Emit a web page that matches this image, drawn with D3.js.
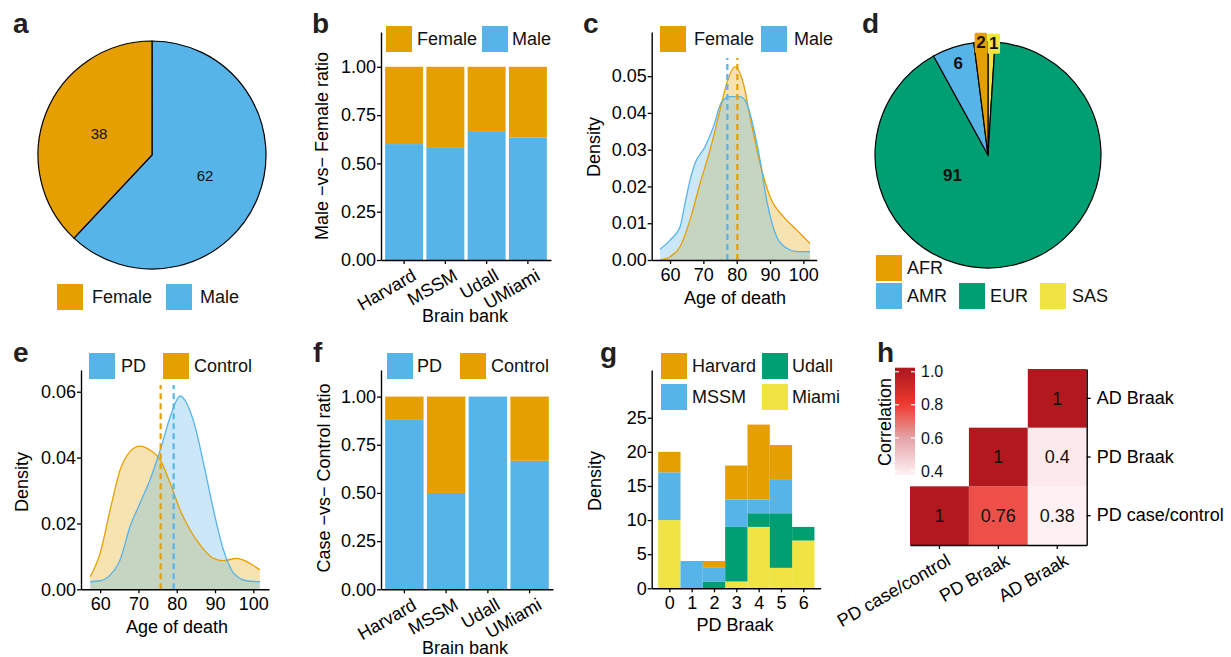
<!DOCTYPE html>
<html><head><meta charset="utf-8">
<script src="https://cdn.jsdelivr.net/npm/d3@7"></script>
<style>body{margin:0;background:#fff}svg{font-family:"Liberation Sans",Arial,sans-serif}</style>
</head><body>
<svg id="fig" width="1231" height="657"></svg>
<script>
// ---------------- DATA ----------------
const sexLabels = ["Female", "Male"];
const sexPercent = [38, 62];

const bankNames = ["Harvard", "MSSM", "Udall", "UMiami"];
const maleRatio = [0.60, 0.58, 0.667, 0.633];
const femaleRatio = [0.40, 0.42, 0.333, 0.367];

const femaleAge = [57, 60, 63, 66, 69, 72, 75, 77, 79.5, 82, 84, 87, 90, 94, 98, 102];
const femaleDensity = [0.000, 0.0009, 0.0036, 0.0109, 0.0208, 0.0299, 0.0408, 0.048, 0.0525, 0.048, 0.0389, 0.0263, 0.0172, 0.0118, 0.0082, 0.0045];
const maleAge = [57, 60, 63, 64.5, 66, 67.5, 70.5, 73, 75.5, 78, 81, 83, 85, 87, 89, 92, 95, 98, 102];
const maleDensity = [0.0029, 0.0054, 0.009, 0.0154, 0.0217, 0.0263, 0.0308, 0.0362, 0.043, 0.0444, 0.0444, 0.0426, 0.0362, 0.0272, 0.0163, 0.0063, 0.0032, 0.0023, 0.0023];
const meanAgeFemale = 80.2, meanAgeMale = 77.2;

const ancestryLabels = ["AFR", "AMR", "EUR", "SAS"];
const ancestryPercent = [2, 6, 91, 1];

const controlAge = [57.4, 60, 62.6, 65.2, 67.8, 70.4, 73, 75.7, 78.3, 80.9, 83.5, 86.1, 89.6, 92.2, 95.7, 98.3, 101.7];
const controlDensity = [0.0038, 0.0110, 0.0241, 0.0362, 0.0418, 0.0435, 0.0423, 0.0393, 0.0322, 0.0241, 0.0180, 0.0135, 0.0094, 0.0087, 0.0094, 0.0084, 0.0059];
const pdAge = [57.4, 60, 62.6, 65.2, 67.8, 70.4, 73, 75.7, 78.3, 80, 80.9, 82.6, 84.8, 87, 89.6, 92.2, 94.8, 98.3, 101.7];
const pdDensity = [0.0023, 0.0026, 0.0043, 0.0089, 0.019, 0.0261, 0.0332, 0.0423, 0.0524, 0.0575, 0.0587, 0.0565, 0.0494, 0.0383, 0.0241, 0.012, 0.005, 0.0026, 0.0023];
const meanAgeControl = 75.8, meanAgePD = 79.2;

const pdRatio = [0.879, 0.50, 1.00, 0.667];
const controlRatio = [0.121, 0.50, 0.00, 0.333];

const braakStages = [0, 1, 2, 3, 4, 5, 6];
const countMiami   = [10, 0, 0, 1, 9, 3, 7];
const countUdall   = [0, 0, 1, 8, 2, 8, 2];
const countMSSM    = [7, 4, 2, 4, 2, 5, 0];
const countHarvard = [3, 0, 1, 5, 11, 5, 0];

const corrVars = ["PD case/control", "PD Braak", "AD Braak"];
const corrRows = ["PD case/control", "PD case/control", "PD case/control", "PD Braak", "PD Braak", "AD Braak"];
const corrCols = ["PD case/control", "PD Braak", "AD Braak", "PD Braak", "AD Braak", "AD Braak"];
const corrValues = [1, 0.76, 0.38, 1, 0.4, 1];

// ---------------- STYLE ----------------
const FONT = '"Liberation Sans", Arial, sans-serif';
const COL = {orange: "#E69F00", blue: "#56B4E9", green: "#009E73", yellow: "#F0E442"};
const svg = d3.select("#fig");

function panelLabel(t, x, y) {
  svg.append("text").attr("x", x).attr("y", y).attr("font-size", 28)
    .attr("font-weight", "bold").attr("fill", "#231f20").text(t);
}
function key(x, y, color, label, tx) {
  svg.append("rect").attr("x", x).attr("y", y).attr("width", 26).attr("height", 26).attr("fill", color);
  svg.append("text").attr("x", tx).attr("y", y + 13).attr("dy", "0.35em").attr("font-size", 18).attr("fill", "#111").text(label);
}
function styleAxis(g) {
  g.attr("font-family", FONT).attr("font-size", 18);
  g.select(".domain").attr("stroke", "#000").attr("stroke-width", 1.4);
  g.selectAll(".tick line").attr("stroke", "#000").attr("stroke-width", 1.3);
  g.selectAll(".tick text").attr("fill", "#000");
}
function leftAxis(scale, x, ticks, fmt) {
  const g = svg.append("g").attr("transform", `translate(${x},0)`)
    .call(d3.axisLeft(scale).tickValues(ticks).tickFormat(fmt).tickSize(4).tickPadding(1).tickSizeOuter(0));
  styleAxis(g); return g;
}
function bottomAxis(scale, y, ticks, fmt) {
  const ax = d3.axisBottom(scale).tickSize(4).tickPadding(4).tickSizeOuter(0);
  if (ticks) ax.tickValues(ticks);
  if (fmt) ax.tickFormat(fmt);
  const g = svg.append("g").attr("transform", `translate(0,${y})`).call(ax);
  styleAxis(g); return g;
}
function rotateLabels(g, dx, dy) {
  g.selectAll(".tick text").attr("text-anchor", "end").attr("y", 0).attr("dy", "0.71em")
    .attr("transform", `translate(${dx},${dy}) rotate(-30)`);
}
function yTitle(t, x, y) {
  svg.append("text").attr("transform", `translate(${x},${y}) rotate(-90)`).attr("text-anchor", "middle")
    .attr("font-size", 18).attr("fill", "#000").text(t);
}
function xTitle(t, x, y) {
  svg.append("text").attr("x", x).attr("y", y).attr("text-anchor", "middle")
    .attr("font-size", 18).attr("fill", "#000").text(t);
}

// ---------------- PANEL a ----------------
panelLabel("a", 13, 33);
{
  const sexColor = {Female: COL.orange, Male: COL.blue};
  const items = sexLabels.map((l, i) => ({l, v: sexPercent[i]})).reverse();
  const arcs = d3.pie().sort(null).value(d => d.v)(items);
  const R = 114;
  const arc = d3.arc().innerRadius(0).outerRadius(R);
  const lab = d3.arc().innerRadius(R / 2).outerRadius(R / 2);
  const g = svg.append("g").attr("transform", "translate(152,155)");
  g.selectAll("path").data(arcs).join("path").attr("d", arc)
    .attr("fill", d => sexColor[d.data.l]).attr("stroke", "#000").attr("stroke-width", 1.2);
  g.selectAll("text").data(arcs).join("text").attr("transform", d => `translate(${lab.centroid(d)})`)
    .attr("text-anchor", "middle").attr("dy", "0.35em").attr("font-size", 15).attr("fill", "#111").text(d => d.data.v);
  key(57, 284, COL.orange, "Female", 92);
  key(166, 284, COL.blue, "Male", 200);
}

// ---------------- PANEL b ----------------
panelLabel("b", 312, 33);
{
  const x = d3.scaleBand(bankNames, [381, 551]).paddingInner(0.08).paddingOuter(0.1);
  const y = d3.scaleLinear([0, 1.18], [260, 32]);
  const g = svg.append("g");
  bankNames.forEach((b, i) => {
    g.append("rect").attr("x", x(b)).attr("width", x.bandwidth()).attr("y", y(maleRatio[i]))
      .attr("height", y(0) - y(maleRatio[i])).attr("fill", COL.blue);
    g.append("rect").attr("x", x(b)).attr("width", x.bandwidth()).attr("y", y(maleRatio[i] + femaleRatio[i]))
      .attr("height", y(maleRatio[i]) - y(maleRatio[i] + femaleRatio[i])).attr("fill", COL.orange);
  });
  leftAxis(y, 381, [0, 0.25, 0.5, 0.75, 1], d3.format(".2f"));
  rotateLabels(bottomAxis(x, 260), 7, 8);
  yTitle("Male −vs− Female ratio", 328, 146);
  xTitle("Brain bank", 465, 322);
  key(386, 26, COL.orange, "Female", 417);
  key(482, 26, COL.blue, "Male", 512);
}

// ---------------- density helper ----------------
function densityPanel(opt) {
  const {x, y, series, means, legend} = opt;
  const g = svg.append("g");
  series.forEach(s => {
    const pts = s.age.map((a, i) => [a, s.dens[i]]);
    g.append("path").datum(pts)
      .attr("d", d3.area().x(d => x(d[0])).y0(y(0)).y1(d => y(d[1])).curve(d3.curveMonotoneX))
      .attr("fill", s.color).attr("fill-opacity", 0.3);
  });
  series.forEach(s => {
    const pts = s.age.map((a, i) => [a, s.dens[i]]);
    g.append("path").datum(pts)
      .attr("d", d3.line().x(d => x(d[0])).y(d => y(d[1])).curve(d3.curveMonotoneX))
      .attr("fill", "none").attr("stroke", s.color).attr("stroke-width", 1.3);
  });
  means.forEach(m => {
    g.append("line").attr("x1", x(m.v)).attr("x2", x(m.v)).attr("y1", y.range()[0]).attr("y2", y.range()[1])
      .attr("stroke", m.color).attr("stroke-width", 2.2).attr("stroke-dasharray", "6,4");
  });
  // legend background (covers line tops, as in ggplot inside legend)
  svg.append("rect").attr("x", legend.x - 4).attr("y", legend.y - 6).attr("width", legend.w).attr("height", 38).attr("fill", "#fff");
  legend.items.forEach(it => key(it.x, legend.y, it.color, it.label, it.tx));
}

// ---------------- PANEL c ----------------
panelLabel("c", 583, 33);
{
  const x = d3.scaleLinear([54.5, 104], [651.7, 816.7]);
  const y = d3.scaleLinear([0, 0.062], [260, 32]);
  densityPanel({
    x, y,
    series: [
      {age: femaleAge, dens: femaleDensity, color: COL.orange},
      {age: maleAge, dens: maleDensity, color: COL.blue}
    ],
    means: [{v: meanAgeMale, color: COL.blue}, {v: meanAgeFemale, color: COL.orange}],
    legend: {x: 660, y: 26, w: 170, items: [
      {x: 660, color: COL.orange, label: "Female", tx: 694},
      {x: 761, color: COL.blue, label: "Male", tx: 794}]}
  });
  leftAxis(y, 651.7, [0, 0.01, 0.02, 0.03, 0.04, 0.05], d3.format(".2f"));
  bottomAxis(x, 260, [60, 70, 80, 90, 100], d3.format("d"));
  yTitle("Density", 600, 147);
  xTitle("Age of death", 735, 304);
}

// ---------------- PANEL d ----------------
panelLabel("d", 862, 33);
{
  const ancColor = {AFR: COL.orange, AMR: COL.blue, EUR: COL.green, SAS: COL.yellow};
  const items = ancestryLabels.map((l, i) => ({l, v: ancestryPercent[i]})).reverse();
  const arcs = d3.pie().sort(null).value(d => d.v)(items);
  const R = 113;
  const arc = d3.arc().innerRadius(0).outerRadius(R);
  const g = svg.append("g").attr("transform", "translate(988,155)");
  g.selectAll("path").data(arcs).join("path").attr("d", arc)
    .attr("fill", d => ancColor[d.data.l]).attr("stroke", "#000").attr("stroke-width", 1.2);
  // label placement (layout only)
  const labRadius = {AFR: 1.0, AMR: 0.855, EUR: 0.36, SAS: 0.99};
  const labAngle = {EUR: 4.205, SAS: 0.052};
  arcs.forEach(d => {
    const a = labAngle[d.data.l] !== undefined ? labAngle[d.data.l] : (d.startAngle + d.endAngle) / 2;
    const r = labRadius[d.data.l] * R;
    const px = r * Math.sin(a), py = -r * Math.cos(a);
    const lg = g.append("g").attr("transform", `translate(${px},${py})`);
    const box = lg.append("rect").attr("fill", ancColor[d.data.l]).attr("rx", 1.5);
    const t = lg.append("text").attr("text-anchor", "middle").attr("dy", "0.35em").attr("font-size", 17)
      .attr("font-weight", "bold").attr("fill", "#111").text(d.data.v);
    const bb = t.node().getBBox();
    box.attr("x", bb.x - 1.5).attr("y", bb.y - 0.5).attr("width", bb.width + 3).attr("height", bb.height + 1);
  });
  key(876, 255, COL.orange, "AFR", 907);
  key(876, 283, COL.blue, "AMR", 907);
  key(959, 283, COL.green, "EUR", 990);
  key(1040, 283, COL.yellow, "SAS", 1072);
}

// ---------------- PANEL e ----------------
panelLabel("e", 13, 362);
{
  const x = d3.scaleLinear([55, 104.1], [81, 269]);
  const y = d3.scaleLinear([0, 0.0666], [589.3, 370]);
  densityPanel({
    x, y,
    series: [
      {age: controlAge, dens: controlDensity, color: COL.orange},
      {age: pdAge, dens: pdDensity, color: COL.blue}
    ],
    means: [{v: meanAgeControl, color: COL.orange}, {v: meanAgePD, color: COL.blue}],
    legend: {x: 89, y: 353, w: 185, items: [
      {x: 89, color: COL.blue, label: "PD", tx: 121},
      {x: 163, color: COL.orange, label: "Control", tx: 194}]}
  });
  leftAxis(y, 81, [0, 0.02, 0.04, 0.06], d3.format(".2f"));
  bottomAxis(x, 589.3, [60, 70, 80, 90, 100], d3.format("d"));
  yTitle("Density", 28, 482);
  xTitle("Age of death", 177, 633);
}

// ---------------- PANEL f ----------------
panelLabel("f", 313, 362);
{
  const x = d3.scaleBand(bankNames, [381, 553]).paddingInner(0.08).paddingOuter(0.1);
  const y = d3.scaleLinear([0, 1.138], [589.3, 370]);
  const g = svg.append("g");
  bankNames.forEach((b, i) => {
    g.append("rect").attr("x", x(b)).attr("width", x.bandwidth()).attr("y", y(pdRatio[i]))
      .attr("height", y(0) - y(pdRatio[i])).attr("fill", COL.blue);
    g.append("rect").attr("x", x(b)).attr("width", x.bandwidth()).attr("y", y(pdRatio[i] + controlRatio[i]))
      .attr("height", y(pdRatio[i]) - y(pdRatio[i] + controlRatio[i])).attr("fill", COL.orange);
  });
  leftAxis(y, 381, [0, 0.25, 0.5, 0.75, 1], d3.format(".2f"));
  rotateLabels(bottomAxis(x, 589.3), 7, 8);
  yTitle("Case −vs− Control ratio", 330, 478);
  xTitle("Brain bank", 465, 654);
  key(387, 353, COL.blue, "PD", 417);
  key(460, 353, COL.orange, "Control", 491);
}

// ---------------- PANEL g ----------------
panelLabel("g", 600, 362);
{
  const x = d3.scaleLinear([-0.79, 6.78], [651.7, 820.7]);
  const y = d3.scaleLinear([0, 32], [588.3, 370]);
  const rows = braakStages.map((s, i) => ({stage: s, Miami: countMiami[i], Udall: countUdall[i], MSSM: countMSSM[i], Harvard: countHarvard[i]}));
  const keys = ["Miami", "Udall", "MSSM", "Harvard"];
  const colors = {Miami: COL.yellow, Udall: COL.green, MSSM: COL.blue, Harvard: COL.orange};
  const stacked = d3.stack().keys(keys)(rows);
  const g = svg.append("g");
  stacked.forEach(layer => {
    g.append("g").attr("fill", colors[layer.key]).selectAll("rect").data(layer).join("rect")
      .attr("x", d => x(d.data.stage - 0.5)).attr("width", x(1) - x(0))
      .attr("y", d => y(d[1])).attr("height", d => y(d[0]) - y(d[1]));
  });
  leftAxis(y, 651.7, [0, 5, 10, 15, 20, 25], d3.format("d"));
  bottomAxis(x, 588.3, braakStages, d3.format("d"));
  yTitle("Density", 601, 481);
  xTitle("PD Braak", 735, 631);
  key(661, 353, COL.orange, "Harvard", 692);
  key(762, 353, COL.green, "Udall", 792);
  key(661, 384, COL.blue, "MSSM", 692);
  key(762, 384, COL.yellow, "Miami", 792);
}

// ---------------- PANEL h ----------------
panelLabel("h", 877, 362);
{
  const x = d3.scaleBand(corrVars, [910, 1086.7]);
  const y = d3.scaleBand(corrVars.slice().reverse(), [369, 545]);
  const color = d3.scaleLinear().domain([0.38, 0.6, 0.8, 1.0])
    .range(["#fff0f3", "#e3a3a6", "#ee3b30", "#b2191e"]).interpolate(d3.interpolateRgb).clamp(true);
  const g = svg.append("g");
  corrValues.forEach((v, i) => {
    g.append("rect").attr("x", x(corrCols[i])).attr("y", y(corrRows[i]))
      .attr("width", x.bandwidth()).attr("height", y.bandwidth()).attr("fill", color(v));
    g.append("text").attr("x", x(corrCols[i]) + x.bandwidth() / 2).attr("y", y(corrRows[i]) + y.bandwidth() / 2)
      .attr("dy", "0.35em").attr("text-anchor", "middle").attr("font-size", 18).attr("fill", "#111").text(v);
  });
  const ra = svg.append("g").attr("transform", "translate(1086.7,0)")
    .call(d3.axisRight(y).tickSize(4).tickPadding(6).tickSizeOuter(0));
  styleAxis(ra);
  rotateLabels(bottomAxis(x, 545), 6, 8);

  // colour bar
  const cbY = d3.scaleLinear([0.4, 1.0], [471, 371.7]);
  const top = 367.7, bot = 475;
  const lo = cbY.invert(bot), hi = cbY.invert(top);
  const grad = svg.append("defs").append("linearGradient").attr("id", "cbgrad")
    .attr("x1", 0).attr("y1", 1).attr("x2", 0).attr("y2", 0);
  d3.range(0, 1.0001, 0.05).forEach(t => {
    grad.append("stop").attr("offset", t).attr("stop-color", color(lo + t * (hi - lo)));
  });
  svg.append("rect").attr("x", 895).attr("y", top).attr("width", 20).attr("height", bot - top).attr("fill", "url(#cbgrad)");
  [0.4, 0.6, 0.8, 1.0].forEach(v => {
    svg.append("line").attr("x1", 895).attr("x2", 899).attr("y1", cbY(v)).attr("y2", cbY(v)).attr("stroke", "#fff").attr("stroke-width", 1.2);
    svg.append("line").attr("x1", 911).attr("x2", 915).attr("y1", cbY(v)).attr("y2", cbY(v)).attr("stroke", "#fff").attr("stroke-width", 1.2);
    svg.append("text").attr("x", 921).attr("y", cbY(v)).attr("dy", "0.35em").attr("font-size", 16).attr("fill", "#111").text(d3.format(".1f")(v));
  });
  yTitle("Correlation", 891, 422);
}
</script>
</body></html>
